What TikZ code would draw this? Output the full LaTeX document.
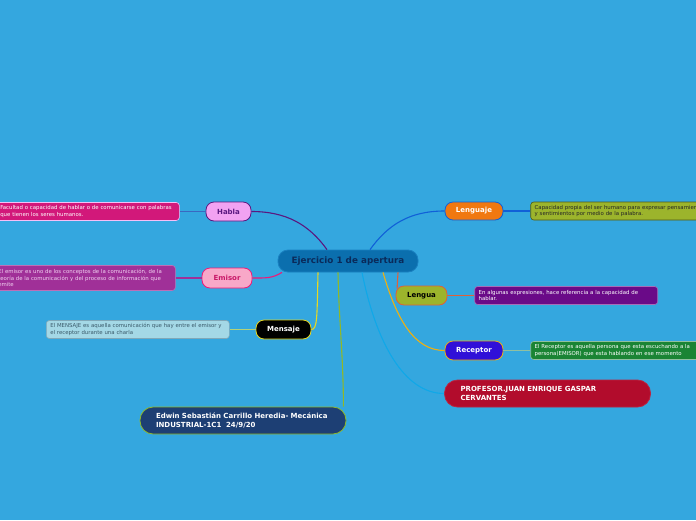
\documentclass[tikz,border=0pt]{standalone}
\usepackage{fontspec}
\setmainfont{DejaVu Sans}
\usepackage{tikz}
\usetikzlibrary{positioning}
\definecolor{bgblue}{RGB}{52,167,223}
\definecolor{centerfill}{RGB}{11,111,174}
\definecolor{centerdraw}{RGB}{26,128,192}
\definecolor{centertext}{RGB}{10,42,90}
\definecolor{hablafill}{RGB}{242,162,242}
\definecolor{hablaline}{RGB}{90,24,128}
\definecolor{hablanotefill}{RGB}{210,24,122}
\definecolor{hablanoteline}{RGB}{58,104,192}
\definecolor{emisorfill}{RGB}{248,168,200}
\definecolor{emisorline}{RGB}{240,24,120}
\definecolor{emisortext}{RGB}{200,24,104}
\definecolor{emisornotefill}{RGB}{160,48,152}
\definecolor{emisornotetext}{RGB}{240,208,240}
\definecolor{mensajeline}{RGB}{232,216,32}
\definecolor{mensajenotefill}{RGB}{164,216,230}
\definecolor{mensajenotedraw}{RGB}{128,168,184}
\definecolor{mensajenotetext}{RGB}{58,90,106}
\definecolor{mensajenoteline}{RGB}{180,210,120}
\definecolor{lenguajefill}{RGB}{240,120,16}
\definecolor{lenguajeline}{RGB}{16,96,216}
\definecolor{olive}{RGB}{156,180,44}
\definecolor{lengualine}{RGB}{224,96,56}
\definecolor{lenguanotefill}{RGB}{106,10,136}
\definecolor{receptorfill}{RGB}{48,16,216}
\definecolor{receptorline}{RGB}{240,176,16}
\definecolor{receptornotefill}{RGB}{26,132,52}
\definecolor{receptornoteline}{RGB}{144,192,160}
\definecolor{profesorfill}{RGB}{178,12,44}
\definecolor{profesorline}{RGB}{16,168,232}
\definecolor{edwinfill}{RGB}{29,63,116}
\definecolor{edwinline}{RGB}{144,184,40}

\begin{document}
\begin{tikzpicture}[x=1pt, y=-1pt,
    node distance=26pt,
    topic/.style={rounded corners=8pt, draw, line width=0.8pt, align=center, inner sep=0pt, minimum height=19pt, font=\bfseries\fontsize{7}{8}\selectfont},
    note/.style={rounded corners=3pt, draw, line width=0.6pt, align=left, inner xsep=4pt, inner ysep=2pt, minimum height=18pt, text width=175pt, font=\fontsize{5.4}{6.6}\selectfont},
    bignote/.style={rounded corners=13pt, draw, line width=0.8pt, align=left, inner xsep=16pt, minimum height=27pt, text width=174pt, font=\bfseries\fontsize{7}{8.6}\selectfont},
    link/.style={line width=1.1pt}
]
\useasboundingbox[fill=bgblue] (0,0) rectangle (696,520);

\node[topic, rounded corners=10pt, minimum width=140pt, minimum height=22pt, fill=centerfill, draw=centerdraw, text=centertext, font=\bfseries\fontsize{8.8}{10}\selectfont] (central) at (348,261) {Ejercicio 1 de apertura};

\node[topic, minimum width=45pt, fill=hablafill, draw=hablaline, text=hablaline] (habla) at (228.5,211.5) {Habla};
\node[topic, minimum width=50pt, minimum height=20pt, fill=emisorfill, draw=emisorline, text=emisortext] (emisor) at (227,278) {Emisor};
\node[topic, minimum width=55pt, fill=black, draw=mensajeline, text=white] (mensaje) at (283.5,329.5) {Mensaje};
\node[topic, minimum width=58pt, minimum height=18pt, fill=lenguajefill, draw=lenguajeline, text=white] (lenguaje) at (474,211) {Lenguaje};
\node[topic, minimum width=51pt, fill=olive, draw=lengualine, text=black] (lengua) at (421.5,295.5) {Lengua};
\node[topic, minimum width=58pt, fill=receptorfill, draw=receptorline, text=white] (receptor) at (474,350.5) {Receptor};

\node[note, left=of habla, fill=hablanotefill, draw=hablafill!70!white, text=white] (hablanote) {Facultad o capacidad de hablar o de comunicarse con palabras\\que tienen los seres humanos.};
\node[note, left=of emisor, text width=173pt, minimum height=25pt, fill=emisornotefill, draw=emisornotefill!70!white, text=emisornotetext] (emisornote) {El emisor es uno de los conceptos de la comunicación, de la\\teoría de la comunicación y del proceso de información que\\emite};
\node[note, left=of mensaje, fill=mensajenotefill, draw=mensajenotedraw, text=mensajenotetext] (mensajenote) {El MENSAJE es aquella comunicación que hay entre el emisor y\\el receptor durante una charla};
\node[note, right=27pt of lenguaje, text width=190pt, fill=olive, draw=olive!50!black, text=black!85] (lenguajenote) {Capacidad propia del ser humano para expresar pensamientos\\y sentimientos por medio de la palabra.};
\node[note, right=27pt of lengua, fill=lenguanotefill, draw=lenguanotefill!60!white, text=white] (lenguanote) {En algunas expresiones, hace referencia a la capacidad de\\hablar.};
\node[note, right=27pt of receptor, fill=receptornotefill, draw=receptornoteline, text=white] (receptornote) {El Receptor es aquella persona que esta escuchando a la\\persona(EMISOR) que esta hablando en ese momento};

\node[bignote, fill=profesorfill, draw=profesorfill!90!white, text=white] (profesor) at (547.5,393.5) {PROFESOR.JUAN ENRIQUE GASPAR\\CERVANTES};
\node[bignote, fill=edwinfill, draw=edwinline, text=white] (edwin) at (243,420.5) {Edwin Sebastián Carrillo Heredia- Mecánica\\INDUSTRIAL-1C1\ \ 24/9/20};

\draw[link, hablaline] ([xshift=-21pt]central.north) .. controls +(-18,-25) and +(35,0) .. (habla.east);
\draw[link, lenguajeline] ([xshift=22pt]central.north) .. controls +(18,-25) and +(-35,0) .. (lenguaje.west);
\draw[link, emisorline] ([xshift=-66pt]central.south) .. controls +(-10,6) and +(14,0) .. (emisor.east);
\draw[link, mensajeline] ([xshift=-30pt]central.south) .. controls +(-1,45) and +(6,0) .. (mensaje.east);
\draw[link, edwinline] ([xshift=-10pt]central.south) .. controls +(1,50) and +(0,-50) .. ([xshift=-3pt]edwin.north east);
\draw[link, profesorline] ([xshift=14pt]central.south) .. controls +(14,70) and +(-40,0) .. (profesor.west);
\draw[link, receptorline] ([xshift=35pt]central.south) .. controls +(14,48) and +(-30,0) .. (receptor.west);
\draw[link, lengualine] ([xshift=50pt]central.south) -- ([xshift=1.5pt, yshift=-3pt]lengua.north west);

\draw[link, hablanoteline] (habla.west) -- (hablanote.east);
\draw[link, emisornotefill] (emisor.west) -- (emisornote.east);
\draw[link, mensajenoteline] (mensaje.west) -- (mensajenote.east);
\draw[link, lenguajeline] (lenguaje.east) -- (lenguajenote.west);
\draw[link, lengualine] (lengua.east) -- (lenguanote.west);
\draw[link, receptornoteline] (receptor.east) -- (receptornote.west);
\end{tikzpicture}
\end{document}
